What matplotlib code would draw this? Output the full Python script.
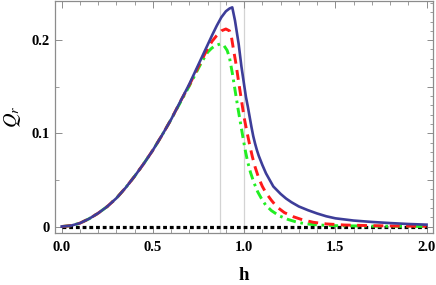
import numpy as np
import matplotlib
matplotlib.use('Agg')
import matplotlib.pyplot as plt
from matplotlib.ticker import MultipleLocator

# values
h_blue = [0.0, 0.05, 0.1, 0.15, 0.2, 0.25, 0.3, 0.35, 0.4, 0.45, 0.5, 0.55, 0.6,
          0.65, 0.7, 0.75, 0.8, 0.825, 0.85, 0.875, 0.9, 0.92, 0.935, 0.95, 0.97,
          0.985, 1.0, 1.01, 1.02, 1.03, 1.04, 1.05, 1.06, 1.07, 1.08, 1.09, 1.1,
          1.12, 1.14, 1.16, 1.18, 1.2, 1.23, 1.26, 1.3, 1.35, 1.4, 1.45, 1.5,
          1.6, 1.7, 1.8, 1.9, 2.0]
q_blue = [0.0, 0.0009, 0.0036, 0.0083, 0.0143, 0.0215, 0.0304, 0.0415, 0.054,
          0.0675, 0.082, 0.098, 0.115, 0.134, 0.153, 0.174, 0.195, 0.2055,
          0.2155, 0.2245, 0.2310, 0.2340, 0.2352, 0.221, 0.196, 0.172, 0.152,
          0.139, 0.129, 0.118, 0.107, 0.097, 0.089, 0.082, 0.076, 0.071, 0.066,
          0.057, 0.050, 0.043, 0.039, 0.035, 0.030, 0.026, 0.0215, 0.0175,
          0.0140, 0.0110, 0.0088, 0.0064, 0.0049, 0.0037, 0.0027, 0.0020]

h_red = [0.0, 0.05, 0.1, 0.15, 0.2, 0.25, 0.3, 0.35, 0.4, 0.45, 0.5, 0.55, 0.6,
         0.65, 0.7, 0.75, 0.8, 0.825, 0.85, 0.875, 0.9, 0.92, 0.93, 0.94, 0.955,
         0.97, 0.985, 1.0, 1.015, 1.03, 1.045, 1.06, 1.08, 1.1, 1.12, 1.15, 1.18,
         1.22, 1.27, 1.32, 1.38, 1.45, 1.55, 1.7, 1.85, 2.0]
q_red = [0.0, 0.0009, 0.0036, 0.0083, 0.0143, 0.0215, 0.0304, 0.0415, 0.054,
         0.0675, 0.082, 0.098, 0.115, 0.134, 0.152, 0.172, 0.191, 0.199, 0.205,
         0.210, 0.212, 0.210, 0.204, 0.192, 0.175, 0.155, 0.136, 0.117, 0.102,
         0.088, 0.075, 0.064, 0.052, 0.043, 0.036, 0.028, 0.021, 0.015, 0.0105,
         0.0072, 0.0045, 0.0028, 0.0016, 0.0009, 0.0005, 0.0003]

h_green = [0.0, 0.05, 0.1, 0.15, 0.2, 0.25, 0.3, 0.35, 0.4, 0.45, 0.5, 0.55,
           0.6, 0.65, 0.7, 0.75, 0.775, 0.8, 0.82, 0.84, 0.87, 0.89, 0.907,
           0.92, 0.935, 0.953, 0.967, 0.981, 0.995, 1.008, 1.02, 1.035, 1.054,
           1.075, 1.095, 1.118, 1.15, 1.192, 1.24, 1.284, 1.33, 1.4, 1.5, 1.7,
           2.0]
q_green = [0.0, 0.0009, 0.0036, 0.0083, 0.0143, 0.0215, 0.0304, 0.0415, 0.054,
           0.0675, 0.082, 0.098, 0.115, 0.133, 0.151, 0.170, 0.179, 0.187,
           0.191, 0.194, 0.196, 0.194, 0.189, 0.181, 0.165, 0.143, 0.126,
           0.110, 0.094, 0.080, 0.069, 0.058, 0.047, 0.037, 0.030, 0.023,
           0.017, 0.0115, 0.0076, 0.0050, 0.0031, 0.0017, 0.0009, 0.0004,
           0.0001]

h_zero = [0.0, 2.0]
q_zero = [0.0, 0.0]

vlines_h = [np.sqrt(3) / 2, 1.0]

plt.rcParams['mathtext.fontset'] = 'stix'
tick_font = {'family': 'Liberation Serif', 'weight': 'bold', 'size': 10.5}
frame_col = '#8c8c8c'

fig = plt.figure(figsize=(4.36, 2.85), dpi=100)
ax = fig.add_axes([0.126, 0.182, 0.867, 0.816])

for xv in vlines_h:
    ax.axvline(xv, color='#d3d3d3', lw=0.9, zorder=1)

ax.plot(h_zero, q_zero, color='black', lw=2.3, ls=(0, (1.2, 0.9)), zorder=2)
ax.plot(h_green, q_green, color='#22ee22', lw=2.1, ls=(0, (3.2, 1.6, 0.9, 1.6)),
        zorder=3)
ax.plot(h_red, q_red, color='#ff1a1a', lw=2.1, ls=(0, (3.4, 2.2)), zorder=4)
ax.plot(h_blue, q_blue, color='#3d3d99', lw=1.9, zorder=5)

ax.set_xlim(-0.037, 2.035)
ax.set_ylim(-0.0071, 0.2425)

ax.xaxis.set_major_locator(MultipleLocator(0.5))
ax.xaxis.set_minor_locator(MultipleLocator(0.1))
ax.yaxis.set_major_locator(MultipleLocator(0.1))
ax.yaxis.set_minor_locator(MultipleLocator(0.05))
ax.tick_params(which='both', direction='in', color=frame_col, top=True, right=False,
               labelsize=10.5)
ax.tick_params(which='major', length=5, width=0.7)
ax.tick_params(which='minor', length=3, width=0.6)
ax.tick_params(axis='x', pad=6)

# right side carries finer ticks than the left one
ax2 = ax.twinx()
ax2.set_ylim(ax.get_ylim())
ax2.yaxis.set_major_locator(MultipleLocator(0.05))
ax2.yaxis.set_minor_locator(MultipleLocator(0.01))
ax2.tick_params(which='both', direction='in', color=frame_col, labelright=False)
ax2.tick_params(which='major', length=4.5, width=0.7)
ax2.tick_params(which='minor', length=2.5, width=0.6)
for sp in ax2.spines.values():
    sp.set_visible(False)

ax.set_xticks([0.0, 0.5, 1.0, 1.5, 2.0])
ax.set_xticklabels(['0.0', '0.5', '1.0', '1.5', '2.0'], fontdict=tick_font)
ax.set_yticks([0.0, 0.1, 0.2])
ax.set_yticklabels(['0', '0.1', '0.2'], fontdict=tick_font)

for sp in ax.spines.values():
    sp.set_color(frame_col)
    sp.set_linewidth(0.9)

ax.set_xlabel('h', fontdict={'family': 'Liberation Serif', 'weight': 'bold', 'size': 13.5},
              labelpad=9)
ax.set_ylabel(r'$Q_r$', fontsize=14.5, labelpad=6)

fig.savefig('out.png', dpi=100)
